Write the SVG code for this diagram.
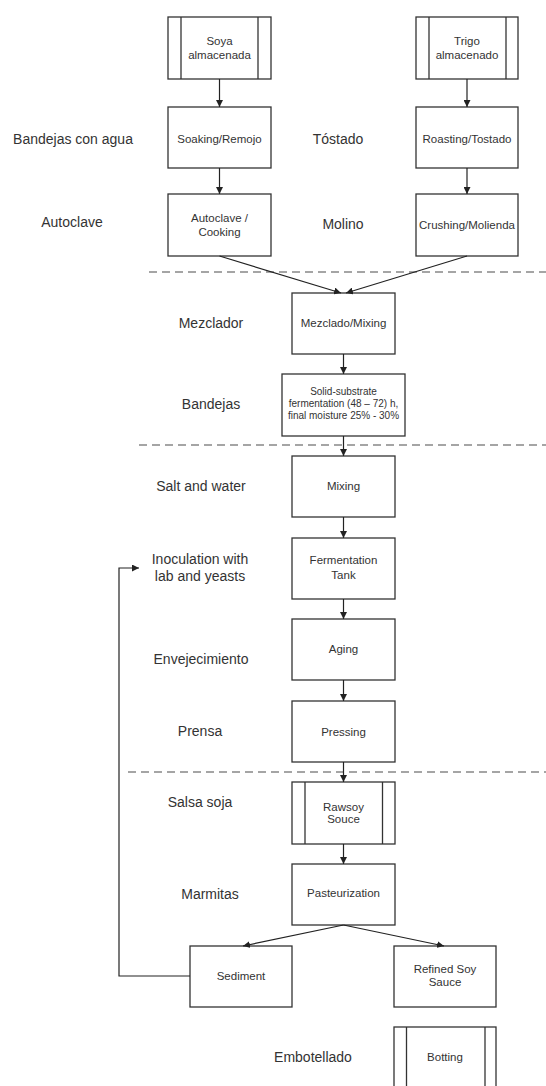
<svg xmlns="http://www.w3.org/2000/svg" width="546" height="1086" viewBox="0 0 546 1086">
<defs>
<marker id="ah" viewBox="0 0 10 10" refX="10" refY="5" markerWidth="7" markerHeight="7" markerUnits="userSpaceOnUse" orient="auto">
<path d="M0,0 L10,5 L0,10 Z" fill="#222"/>
</marker>
</defs>
<style>
.box{fill:#fff;stroke:#333;stroke-width:1.3}
.bt{font-family:"Liberation Sans",Arial,sans-serif;font-size:11.5px;fill:#333;text-anchor:middle}
.st{font-family:"Liberation Sans",Arial,sans-serif;font-size:10px;fill:#333;text-anchor:middle}
.lb{font-family:"Liberation Sans",Arial,sans-serif;font-size:14px;fill:#333;text-anchor:middle}
.cn{fill:none;stroke:#222;stroke-width:1.2}
.ar{marker-end:url(#ah)}
.dash{stroke:#888;stroke-width:1.6;stroke-dasharray:8 5;fill:none}
</style>
<rect width="546" height="1086" fill="#fff"/>

<g id="separators">
<line class="dash" x1="149" y1="272" x2="546" y2="272"/>
<line class="dash" x1="139" y1="445" x2="546" y2="445"/>
<line class="dash" x1="128" y1="772" x2="546" y2="772"/>
</g>

<g id="labels">
<text class="lb" x="73" y="144">Bandejas con agua</text>
<text class="lb" x="338" y="144">Tóstado</text>
<text class="lb" x="72" y="227">Autoclave</text>
<text class="lb" x="343" y="229">Molino</text>
<text class="lb" x="211" y="328">Mezclador</text>
<text class="lb" x="211" y="409">Bandejas</text>
<text class="lb" x="201" y="491">Salt and water</text>
<text class="lb" x="200" y="564">Inoculation with</text>
<text class="lb" x="200" y="581">lab and yeasts</text>
<text class="lb" x="201" y="664">Envejecimiento</text>
<text class="lb" x="200" y="736">Prensa</text>
<text class="lb" x="200" y="807">Salsa soja</text>
<text class="lb" x="210" y="899">Marmitas</text>
<text class="lb" x="313" y="1062">Embotellado</text>
</g>

<g id="soya">
<rect class="box" x="168" y="17" width="103" height="62"/>
<line class="box" x1="181" y1="17" x2="181" y2="79"/>
<line class="box" x1="258" y1="17" x2="258" y2="79"/>
<text class="bt" x="219.5" y="45">Soya</text>
<text class="bt" x="219.5" y="59">almacenada</text>
</g>
<g id="trigo">
<rect class="box" x="416" y="17" width="102" height="62"/>
<line class="box" x1="429" y1="17" x2="429" y2="79"/>
<line class="box" x1="506" y1="17" x2="506" y2="79"/>
<text class="bt" x="467" y="45">Trigo</text>
<text class="bt" x="467" y="59">almacenado</text>
</g>
<g id="soaking">
<rect class="box" x="168" y="107" width="103" height="61"/>
<text class="bt" x="219.5" y="143">Soaking/Remojo</text>
</g>
<g id="roasting">
<rect class="box" x="416" y="107" width="102" height="61"/>
<text class="bt" x="467" y="143">Roasting/Tostado</text>
</g>
<g id="autoclave">
<rect class="box" x="168" y="194" width="103" height="62"/>
<text class="bt" x="219.5" y="222">Autoclave /</text>
<text class="bt" x="219.5" y="236">Cooking</text>
</g>
<g id="crushing">
<rect class="box" x="416" y="194" width="102" height="62"/>
<text class="bt" x="467" y="229">Crushing/Molienda</text>
</g>
<g id="mezclado">
<rect class="box" x="292" y="293" width="103" height="61"/>
<text class="bt" x="343.5" y="327">Mezclado/Mixing</text>
</g>
<g id="solid">
<rect class="box" x="282" y="374" width="123" height="62"/>
<text class="st" x="343.5" y="395">Solid-substrate</text>
<text class="st" x="343.5" y="407">fermentation (48 – 72) h,</text>
<text class="st" x="343.5" y="419">final moisture 25% - 30%</text>
</g>
<g id="mixing">
<rect class="box" x="292" y="456" width="103" height="61"/>
<text class="bt" x="343.5" y="490">Mixing</text>
</g>
<g id="fermentation">
<rect class="box" x="292" y="538" width="103" height="61"/>
<text class="bt" x="343.5" y="564">Fermentation</text>
<text class="bt" x="343.5" y="579">Tank</text>
</g>
<g id="aging">
<rect class="box" x="292" y="619" width="103" height="61"/>
<text class="bt" x="343.5" y="653">Aging</text>
</g>
<g id="pressing">
<rect class="box" x="292" y="701" width="103" height="61"/>
<text class="bt" x="343.5" y="736">Pressing</text>
</g>
<g id="rawsoy">
<rect class="box" x="292" y="782" width="103" height="62"/>
<line class="box" x1="305" y1="782" x2="305" y2="844"/>
<line class="box" x1="382.5" y1="782" x2="382.5" y2="844"/>
<text class="bt" x="343.5" y="811">Rawsoy</text>
<text class="bt" x="343.5" y="823">Souce</text>
</g>
<g id="pasteurization">
<rect class="box" x="292" y="864" width="103" height="61"/>
<text class="bt" x="343.5" y="897">Pasteurization</text>
</g>
<g id="sediment">
<rect class="box" x="190" y="946" width="102" height="61"/>
<text class="bt" x="241" y="980">Sediment</text>
</g>
<g id="refined">
<rect class="box" x="394" y="946" width="102" height="61"/>
<text class="bt" x="445" y="973">Refined Soy</text>
<text class="bt" x="445" y="986">Sauce</text>
</g>
<g id="botting">
<rect class="box" x="394" y="1027" width="102" height="70"/>
<line class="box" x1="406.5" y1="1027" x2="406.5" y2="1090"/>
<line class="box" x1="485" y1="1027" x2="485" y2="1090"/>
<text class="bt" x="445" y="1061">Botting</text>
</g>

<g id="connectors">
<line class="cn ar" x1="219.5" y1="79" x2="219.5" y2="107"/>
<line class="cn ar" x1="467" y1="79" x2="467" y2="107"/>
<line class="cn ar" x1="219.5" y1="168" x2="219.5" y2="194"/>
<line class="cn ar" x1="467" y1="168" x2="467" y2="194"/>
<line class="cn ar" x1="219.5" y1="256" x2="341" y2="293"/>
<line class="cn ar" x1="467" y1="256" x2="346" y2="293"/>
<line class="cn ar" x1="343.5" y1="354" x2="343.5" y2="374"/>
<line class="cn ar" x1="343.5" y1="436" x2="343.5" y2="456"/>
<line class="cn ar" x1="343.5" y1="517" x2="343.5" y2="538"/>
<line class="cn ar" x1="343.5" y1="599" x2="343.5" y2="619"/>
<line class="cn ar" x1="343.5" y1="680" x2="343.5" y2="701"/>
<line class="cn ar" x1="343.5" y1="762" x2="343.5" y2="782"/>
<line class="cn ar" x1="343.5" y1="844" x2="343.5" y2="864"/>
<line class="cn ar" x1="343.5" y1="925" x2="243" y2="946"/>
<line class="cn ar" x1="343.5" y1="925" x2="444" y2="946"/>
<polyline class="cn ar" points="190,976 119,976 119,568 139,568"/>
</g>
</svg>
